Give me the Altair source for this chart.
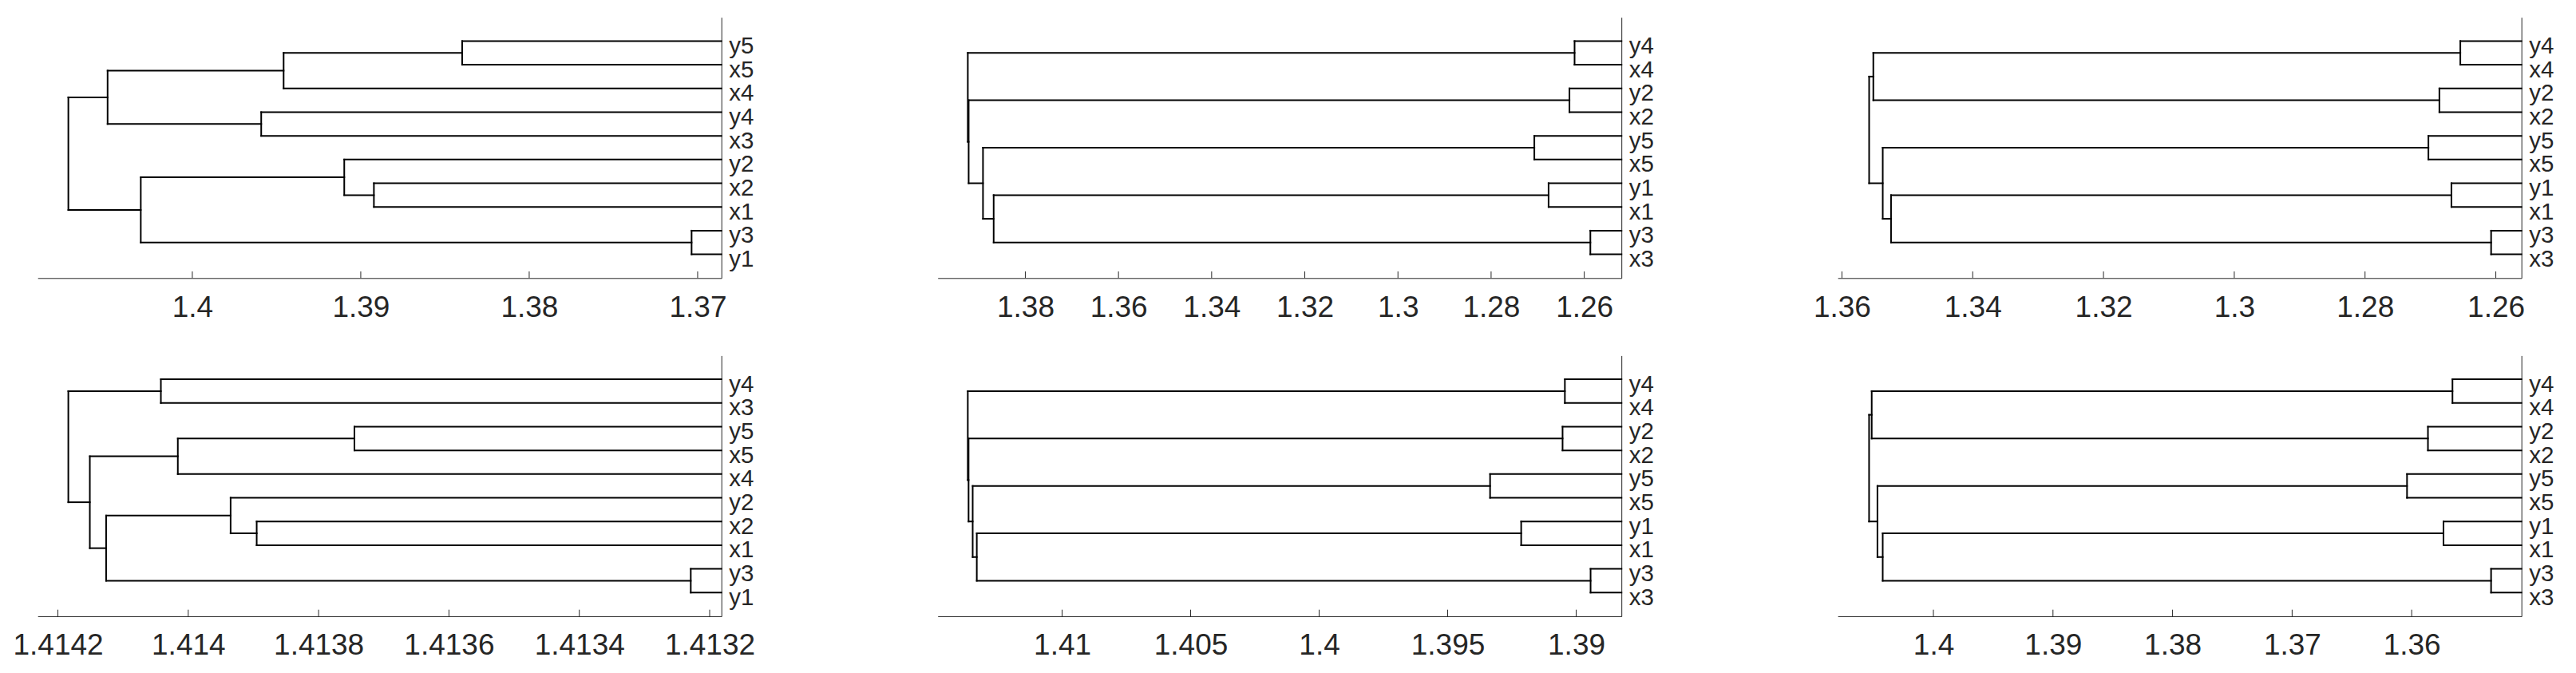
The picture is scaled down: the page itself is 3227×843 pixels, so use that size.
import altair as alt
import pandas as pd

# ---------------- data ----------------
# leaf order, top -> bottom
leaves_1 = ["y5", "x5", "x4", "y4", "x3", "y2", "x2", "x1", "y3", "y1"]
leaves_2 = ["y4", "x4", "y2", "x2", "y5", "x5", "y1", "x1", "y3", "x3"]
leaves_3 = ["y4", "x4", "y2", "x2", "y5", "x5", "y1", "x1", "y3", "x3"]
leaves_4 = ["y4", "x3", "y5", "x5", "x4", "y2", "x2", "x1", "y3", "y1"]
leaves_5 = ["y4", "x4", "y2", "x2", "y5", "x5", "y1", "x1", "y3", "x3"]
leaves_6 = ["y4", "x4", "y2", "x2", "y5", "x5", "y1", "x1", "y3", "x3"]

# merges: (child a, child b, height); "#k" = result of merge k (1-based)
merges_1 = [("y5", "x5", 1.38398), ("#1", "x4", 1.39458), ("y4", "x3", 1.39591),
            ("#2", "#3", 1.40503), ("x2", "x1", 1.38922), ("y2", "#5", 1.39098),
            ("y3", "y1", 1.37036), ("#6", "#7", 1.40306), ("#4", "#8", 1.40736)]
merges_2 = [("y4", "x4", 1.26208), ("y2", "x2", 1.26318), ("y5", "x5", 1.27072),
            ("y1", "x1", 1.26766), ("y3", "x3", 1.25869), ("#4", "#5", 1.38680),
            ("#3", "#6", 1.38909), ("#2", "#7", 1.39217), ("#1", "#8", 1.39235)]
merges_3 = [("y4", "x4", 1.26543), ("y2", "x2", 1.26863), ("y5", "x5", 1.27031),
            ("y1", "x1", 1.26679), ("y3", "x3", 1.26072), ("#1", "#2", 1.35520),
            ("#4", "#5", 1.35249), ("#3", "#7", 1.35376), ("#6", "#8", 1.35584)]
merges_4 = [("y4", "x3", 1.414042), ("y5", "x5", 1.413745), ("#2", "x4", 1.414016),
            ("x2", "x1", 1.413895), ("y2", "#4", 1.413935), ("y3", "y1", 1.413229),
            ("#5", "#6", 1.414126), ("#3", "#7", 1.414151), ("#1", "#8", 1.414184)]
merges_5 = [("y4", "x4", 1.39044), ("y2", "x2", 1.39053), ("y5", "x5", 1.39335),
            ("y1", "x1", 1.39214), ("y3", "x3", 1.38944), ("#4", "#5", 1.41332),
            ("#3", "#6", 1.41348), ("#2", "#7", 1.41364), ("#1", "#8", 1.41367)]
merges_6 = [("y4", "x4", 1.35659), ("y2", "x2", 1.35864), ("y5", "x5", 1.36039),
            ("y1", "x1", 1.35734), ("y3", "x3", 1.35336), ("#1", "#2", 1.40516),
            ("#4", "#5", 1.40424), ("#3", "#7", 1.40468), ("#6", "#8", 1.40538)]

# x-axis limits (low, high); axis is reversed (high on the left)
xlim_1 = [1.36859, 1.40918]
xlim_2 = [1.25202, 1.39881]
xlim_3 = [1.25608, 1.36064]
xlim_4 = [1.413182, 1.414231]
xlim_5 = [1.38824, 1.41484]
xlim_6 = [1.35082, 1.40800]

ticks_1 = [1.40, 1.39, 1.38, 1.37]
ticks_2 = [1.38, 1.36, 1.34, 1.32, 1.30, 1.28, 1.26]
ticks_3 = [1.36, 1.34, 1.32, 1.30, 1.28, 1.26]
ticks_4 = [1.4142, 1.4140, 1.4138, 1.4136, 1.4134, 1.4132]
ticks_5 = [1.41, 1.405, 1.40, 1.395, 1.39]
ticks_6 = [1.40, 1.39, 1.38, 1.37, 1.36]

# ---------------- styling ----------------
W, H = 856.5, 326.6
AX = "#262626"
FONT = "Liberation Sans"


def segments(leaves, merges, xlim):
    n = len(leaves)
    pos = {name: float(n - i) for i, name in enumerate(leaves)}
    hgt = {name: xlim[0] for name in leaves}
    rows = []
    for k, (a, b, h) in enumerate(merges, start=1):
        for c in (a, b):
            rows.append({"x": hgt[c], "x2": h, "y": pos[c], "y2": pos[c]})
        rows.append({"x": h, "x2": h, "y": pos[a], "y2": pos[b]})
        node = "#%d" % k
        pos[node] = (pos[a] + pos[b]) / 2.0
        hgt[node] = h
    return pd.DataFrame(rows)


def panel(leaves, merges, xlim, ticks):
    df = segments(leaves, merges, xlim)
    n = len(leaves)
    names_by_pos = [""] + list(reversed(leaves))
    label_expr = "[" + ",".join("'%s'" % s for s in names_by_pos) + "][datum.value]"
    xscale = alt.Scale(domain=xlim, reverse=True, nice=False, zero=False)
    yscale = alt.Scale(domain=[0, n + 1], nice=False, zero=False)
    xaxis = alt.Axis(values=ticks, format=".5~g", title=None, grid=False,
                     ticks=False, tickSize=0, domain=True, domainColor=AX,
                     domainWidth=1, labelFont=FONT, labelFontSize=37,
                     labelColor=AX, labelPadding=19, labelFlush=False,
                     labelOverlap=False)

    lines = alt.Chart(df).mark_rule(color="black", strokeWidth=2, strokeCap="square").encode(
        x=alt.X("x:Q", scale=xscale, axis=xaxis),
        x2="x2:Q",
        y=alt.Y("y:Q", scale=yscale,
                axis=alt.Axis(orient="right", values=list(range(1, n + 1)),
                              labelExpr=label_expr, title=None, grid=False,
                              ticks=False, tickSize=0, domain=True, domainColor=AX,
                              domainWidth=1, labelFont=FONT, labelFontSize=29.5,
                              labelColor=AX, labelPadding=9, labelOffset=6,
                              labelFlush=False, labelOverlap=False)),
        y2="y2:Q",
    )
    tickmarks = alt.Chart(pd.DataFrame({"x": ticks})).mark_rule(color=AX, strokeWidth=1).encode(
        x=alt.X("x:Q", scale=xscale, axis=xaxis),
        y=alt.value(H),
        y2=alt.value(H - 8.3),
    )
    return alt.layer(lines, tickmarks).properties(width=W, height=H)


panels = [
    panel(leaves_1, merges_1, xlim_1, ticks_1),
    panel(leaves_2, merges_2, xlim_2, ticks_2),
    panel(leaves_3, merges_3, xlim_3, ticks_3),
    panel(leaves_4, merges_4, xlim_4, ticks_4),
    panel(leaves_5, merges_5, xlim_5, ticks_5),
    panel(leaves_6, merges_6, xlim_6, ticks_6),
]

chart = alt.concat(*panels, columns=3, spacing={"row": 96.7, "column": 270.5},
                   bounds="flush").properties(
    padding={"left": 7.2, "top": 13.7, "right": 5, "bottom": 5},
    background="white",
).configure_view(stroke=None).resolve_scale(x="independent", y="independent")

chart.save("out.html", embed_options={"renderer": "svg", "actions": False})
